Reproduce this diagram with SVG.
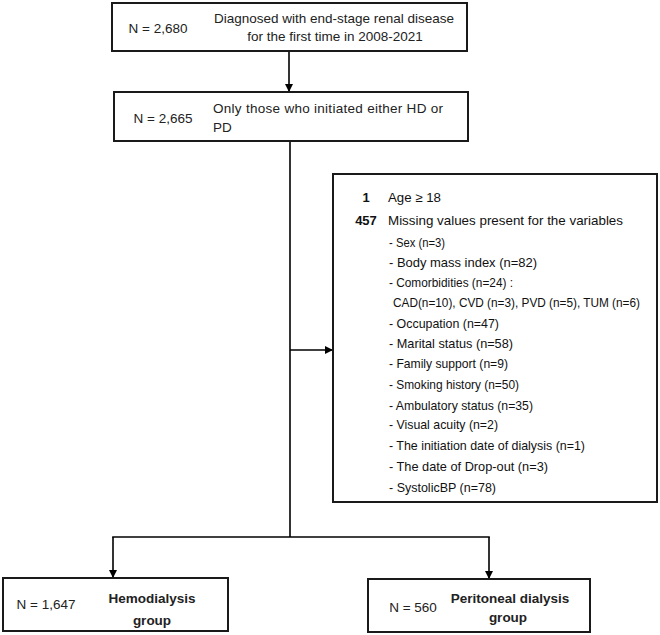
<svg xmlns="http://www.w3.org/2000/svg" width="660" height="635" viewBox="0 0 660 635">
<defs>
<marker id="ah" markerWidth="8" markerHeight="8" refX="7" refY="4" orient="auto" markerUnits="userSpaceOnUse">
<path d="M0,0 L8,4 L0,8 Z" fill="#000"/>
</marker>
<style>
.box{fill:#fff;stroke:#1a1a1a;stroke-width:2}
.c{fill:none;stroke:#000;stroke-width:1.6}
.t{font-family:"Liberation Sans",Arial,sans-serif;font-size:13.5px;fill:#222}
.b{font-weight:bold}
.r{font-family:"Liberation Sans",Arial,sans-serif;font-size:13px;fill:#111}
.s{font-size:12px}
</style>
</defs>
<rect width="660" height="635" fill="#fff"/>
<g id="connectors">
<line class="c" x1="289" y1="51" x2="289" y2="91" marker-end="url(#ah)"/>
<line class="c" x1="290" y1="141" x2="290" y2="537"/>
<line class="c" x1="290" y1="350" x2="332" y2="350" marker-end="url(#ah)"/>
<line class="c" x1="112.2" y1="537" x2="489.8" y2="537"/>
<line class="c" x1="113" y1="537" x2="113" y2="577" marker-end="url(#ah)"/>
<line class="c" x1="489" y1="537" x2="489" y2="578" marker-end="url(#ah)"/>
</g>
<g id="n1">
<rect class="box" x="112" y="3" width="355" height="48"/>
<text class="t" x="158" y="33" text-anchor="middle">N = 2,680</text>
<text class="t" x="334" y="23" text-anchor="middle">Diagnosed with end-stage renal disease</text>
<text class="t" x="335" y="41" text-anchor="middle">for the first time in 2008-2021</text>
</g>
<g id="n2">
<rect class="box" x="114" y="92" width="354" height="49"/>
<text class="t" x="163" y="123" text-anchor="middle">N = 2,665</text>
<text class="t" x="213" y="113" textLength="230">Only those who initiated either HD or</text>
<text class="t" x="213" y="132">PD</text>
</g>
<g id="n3">
<rect class="box" x="333" y="174" width="324" height="328"/>
<text class="r b" x="366" y="202" text-anchor="middle">1</text>
<text class="r" x="388" y="202" textLength="53" lengthAdjust="spacingAndGlyphs">Age ≥ 18</text>
<text class="r b" x="366" y="225" text-anchor="middle">457</text>
<text class="r" x="388" y="225" textLength="235" lengthAdjust="spacingAndGlyphs">Missing values present for the variables</text>
<text class="r s" x="389" y="247" textLength="56" lengthAdjust="spacingAndGlyphs">- Sex (n=3)</text>
<text class="r" x="389" y="267" textLength="148" lengthAdjust="spacingAndGlyphs">- Body mass index (n=82)</text>
<text class="r s" x="389" y="287" textLength="124" lengthAdjust="spacingAndGlyphs">- Comorbidities (n=24) :</text>
<text class="r s" x="393" y="307" textLength="247" lengthAdjust="spacingAndGlyphs">CAD(n=10), CVD (n=3), PVD (n=5), TUM (n=6)</text>
<text class="r" x="389" y="328" textLength="110" lengthAdjust="spacingAndGlyphs">- Occupation (n=47)</text>
<text class="r" x="389" y="348" textLength="124" lengthAdjust="spacingAndGlyphs">- Marital status (n=58)</text>
<text class="r" x="389" y="368" textLength="119" lengthAdjust="spacingAndGlyphs">- Family support (n=9)</text>
<text class="r" x="389" y="389" textLength="130" lengthAdjust="spacingAndGlyphs">- Smoking history (n=50)</text>
<text class="r" x="389" y="410" textLength="144" lengthAdjust="spacingAndGlyphs">- Ambulatory status (n=35)</text>
<text class="r" x="389" y="429" textLength="109" lengthAdjust="spacingAndGlyphs">- Visual acuity (n=2)</text>
<text class="r" x="389" y="450" textLength="196" lengthAdjust="spacingAndGlyphs">- The initiation date of dialysis (n=1)</text>
<text class="r" x="389" y="471" textLength="159" lengthAdjust="spacingAndGlyphs">- The date of Drop-out (n=3)</text>
<text class="r" x="389" y="492" textLength="107" lengthAdjust="spacingAndGlyphs">- SystolicBP (n=78)</text>
</g>
<g id="n4">
<rect class="box" x="3" y="578" width="225" height="53"/>
<text class="t" x="46" y="609" text-anchor="middle">N = 1,647</text>
<text class="t b" x="152" y="603" text-anchor="middle">Hemodialysis</text>
<text class="t b" x="152" y="625" text-anchor="middle">group</text>
</g>
<g id="n5">
<rect class="box" x="368" y="579" width="222" height="53"/>
<text class="t" x="413" y="612" text-anchor="middle">N = 560</text>
<text class="t b" x="510" y="603" text-anchor="middle">Peritoneal dialysis</text>
<text class="t b" x="508" y="622" text-anchor="middle">group</text>
</g>
</svg>
